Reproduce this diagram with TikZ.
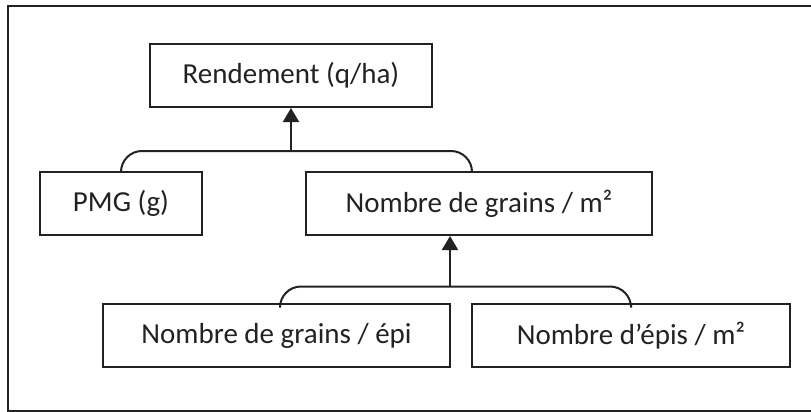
\documentclass[tikz,border=0pt]{standalone}
\usepackage{fontspec}
\setmainfont{Carlito}
\usetikzlibrary{arrows.meta}
\definecolor{ink}{HTML}{222222}
\begin{document}
\begin{tikzpicture}[x=1pt,y=-1pt,
  box/.style={draw=ink,line width=2pt,text=ink,inner sep=0pt,minimum height=63pt,
    font=\fontsize{29}{34}\selectfont},
  brack/.style={draw=ink,line width=2pt,rounded corners=21pt},
  arr/.style={draw=ink,line width=2pt,-{Triangle[length=14pt,width=16pt]}}]
\useasboundingbox (0,0) rectangle (811,412);
\draw[ink,line width=2pt] (811,6.5) -- (8,6.5) -- (8,410.5) -- (811,410.5);
\node[box,minimum width=282pt] (rend) at (291,75.5) {Rendement (q/ha)};
\node[box,minimum width=162pt] (pmg) at (121,203.5) {PMG (g)};
\node[box,minimum width=346pt] (ngm) at (479,203.5) {Nombre de grains / m²};
\node[box,minimum width=347pt] (nge) at (276.5,335.5) {Nombre de grains / épi};
\node[box,minimum width=318pt] (nem) at (631,335.5) {Nombre d’épis / m²};
% upper bracket
\coordinate (j1) at (291,151);
\coordinate (r1) at ([xshift=-7pt]ngm.north);
\draw[brack] (pmg.north) |- (j1) -| (r1);
\draw[arr] (j1) -- (rend.south);
% lower bracket
\coordinate (j2) at (450,286.5);
\coordinate (l2) at ([xshift=3.5pt]nge.north);
\draw[brack] (l2) |- (j2) -| (nem.north);
\draw[arr] (j2) -- (j2 |- ngm.south);
\end{tikzpicture}
\end{document}
